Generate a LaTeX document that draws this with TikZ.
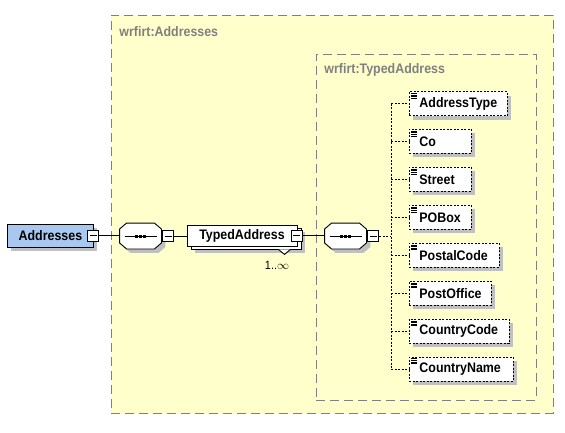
\documentclass[tikz,border=0pt]{standalone}
\usepackage{fontspec}
\setmainfont[FakeStretch=0.9]{Liberation Sans}
\usetikzlibrary{positioning,shadows,calc}

\definecolor{groupfill}{HTML}{FFFFCC}
\definecolor{groupline}{HTML}{808080}
\definecolor{rootfill}{HTML}{A8C8F0}
\definecolor{shadowgray}{HTML}{C0C0C0}

% octagon of a sequence compositor, drawn round an empty node
\newcommand{\seqshape}[1]{%
  \fill[shadowgray, transform canvas={shift={(4pt,-4pt)}}]
    ([xshift=7pt]#1.north west) -- ([xshift=-7pt]#1.north east) -- ([yshift=-6pt]#1.north east) --
    ([yshift=6pt]#1.south east) -- ([xshift=-7pt]#1.south east) -- ([xshift=7pt]#1.south west) --
    ([yshift=6pt]#1.south west) -- ([yshift=-6pt]#1.north west) -- cycle;
  \filldraw[fill=white]
    ([xshift=7pt]#1.north west) -- ([xshift=-7pt]#1.north east) -- ([yshift=-6pt]#1.north east) --
    ([yshift=6pt]#1.south east) -- ([xshift=-7pt]#1.south east) -- ([xshift=7pt]#1.south west) --
    ([yshift=6pt]#1.south west) -- ([yshift=-6pt]#1.north west) -- cycle;
  \draw ([xshift=-16pt]#1.center) -- ([xshift=16pt]#1.center);
  \foreach \dx in {-5.1,-1.5,2.1}
    \fill ([xshift=\dx pt, yshift=-1.5pt]#1.center) rectangle ++(3pt,3pt);
}

\begin{document}
\begin{tikzpicture}
  [
    x=1pt, y=-1pt,
    line width=0.9pt,
    font=\fontsize{13.8}{15}\selectfont\bfseries,
    group/.style={draw=groupline, fill=groupfill, dash pattern=on 9pt off 5pt,
      anchor=north west, inner sep=0pt},
    grouplabel/.style={text=groupline, anchor=base west, inner sep=0pt},
    boxshadow/.style={drop shadow={shadow xshift=4pt, shadow yshift=-4pt,
      fill=shadowgray, opacity=1}},
    elem/.style={draw, fill=white, rectangle, minimum height=23pt, inner sep=0pt, boxshadow},
    rootelem/.style={elem, fill=rootfill},
    typedelem/.style={draw, fill=white, rectangle, minimum width=110pt, minimum height=21pt,
      inner sep=0pt,
      drop shadow={shadow xshift=8pt, shadow yshift=-7pt, fill=shadowgray, opacity=1},
      copy shadow={shadow xshift=4pt, shadow yshift=-3pt}},
    field/.style={elem, minimum height=24pt, inner xsep=10pt, align=left,
      dash pattern=on 2pt off 1.5pt,
      path picture={
        \foreach \k in {1.6,3.2,4.8,6.4}
          \draw[solid, line width=0.4pt] ([xshift=1.5pt, yshift=-\k pt]path picture bounding box.north west) -- ++(6pt,0pt);
      }},
    fielddash/.style={dash pattern=on 2pt off 1.5pt},
    minusbox/.style={draw, solid, fill=white, minimum size=11pt, inner sep=0pt,
      path picture={
        \draw ([xshift=-3.5pt]path picture bounding box.center) -- ([xshift=3.5pt]path picture bounding box.center);
      }},
    seq/.style={rectangle, minimum width=41pt, minimum height=25pt, inner sep=0pt},
    occurs/.style={font=\fontsize{12}{14}\selectfont\mdseries, inner sep=0pt}
  ]
  \path[use as bounding box] (0,0) rectangle (565,432);

  % groups
  \node[group, minimum width=442pt, minimum height=398pt] (addressesgroup) at (111,15) {};
  \node[grouplabel] (addressesgrouplabel) at (119,36) {wrfirt:Addresses};
  \node[group, minimum width=220pt, minimum height=346pt] (typedgroup) at (316,54) {};
  \node[grouplabel] (typedgrouplabel) at (324,73) {wrfirt:TypedAddress};

  % root and sequences
  \node[rootelem, minimum width=86pt, inner xsep=9pt, anchor=west] (addresses) at (7,235.5) {Addresses\hspace{5pt}};
  \node[minusbox] (addressesminus) at ([xshift=-0.5pt]addresses.east) {};

  \node[seq] (seqouter) at (140.5,236) {};
  \seqshape{seqouter}
  \node[minusbox, anchor=west] (seqoutermin) at ([xshift=1pt]seqouter.east) {};

  \node[typedelem] (typed) at (242,235.5) {TypedAddress\hspace{4pt}};
  \node[minusbox] (typedminus) at ([xshift=-0.5pt]typed.east) {};
  \draw[fill=white] ([shift={(-19,3)}]typed.south east) -- ++(6,5) -- ++(6,-5);
  \node[occurs] (typedocc) at (277,265) {1..$\infty$};

  \node[seq] (seqinner) at (345.5,236) {};
  \seqshape{seqinner}
  \node[minusbox, anchor=west] (seqinnermin) at ([xshift=1pt]seqinner.east) {};
  \coordinate (bus) at (391,236);

  % fields
  \foreach \name/\w [count=\i, evaluate=\w as \tw using \w-20] in {AddressType/98, Co/62,
      Street/62, POBox/62, PostalCode/90, PostOffice/82, CountryCode/100, CountryName/104}
    \node[field, text width=\tw pt, anchor=west] (field\i) at (409,{65.6+37.93*\i}) {\name};

  % connectors
  \draw (addressesminus.east) -- (addressesminus.east -| seqouter.west);
  \draw (seqoutermin.east) -- (seqoutermin.east -| typed.west);
  \draw (typedminus.east) -- (typedminus.east -| seqinner.west);
  \draw[fielddash] (seqinnermin.east) -- (bus);
  \draw[fielddash] (bus |- field1.west) -- (bus |- field8.west);
  \foreach \i in {1,...,8}
    \draw[fielddash] (bus |- field\i.west) -- (field\i.west);
\end{tikzpicture}
\end{document}
